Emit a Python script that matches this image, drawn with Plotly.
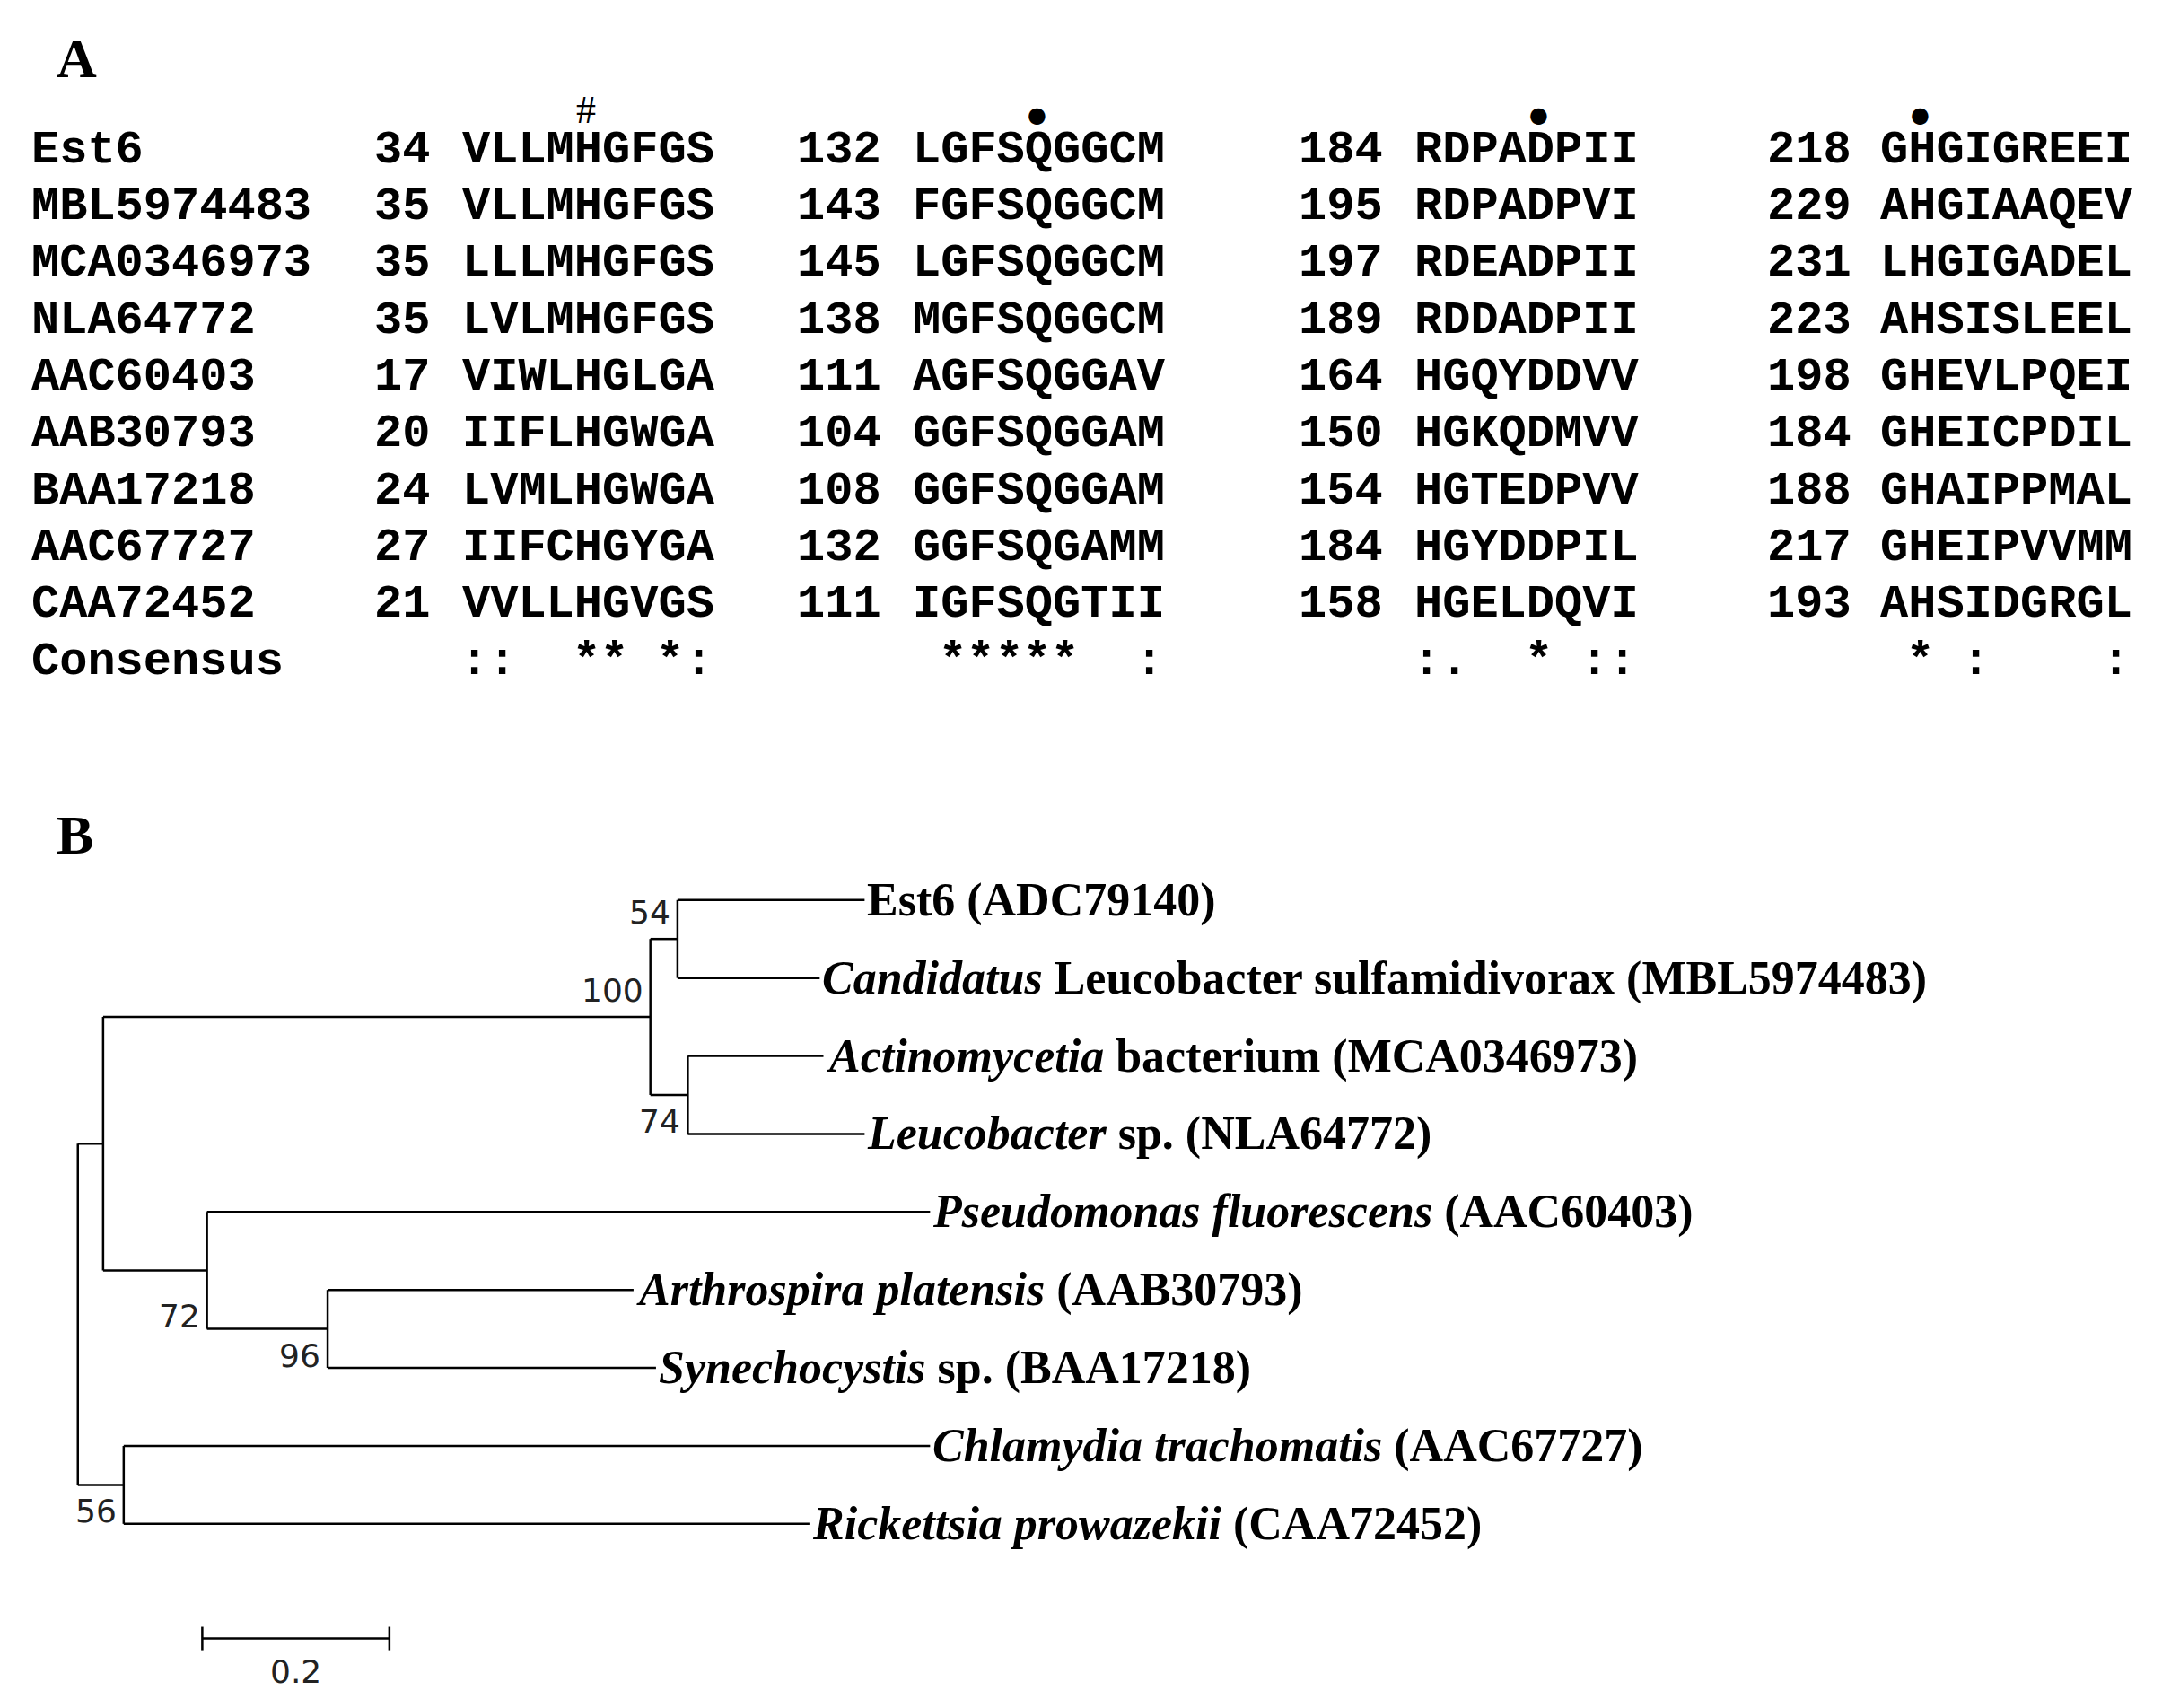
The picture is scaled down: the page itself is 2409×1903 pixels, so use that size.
import plotly.graph_objects as go

# ---------------- Panel A data ----------------
names = ["Est6", "MBL5974483", "MCA0346973", "NLA64772", "AAC60403",
         "AAB30793", "BAA17218", "AAC67727", "CAA72452"]
starts = [[34, 132, 184, 218], [35, 143, 195, 229], [35, 145, 197, 231],
          [35, 138, 189, 223], [17, 111, 164, 198], [20, 104, 150, 184],
          [24, 108, 154, 188], [27, 132, 184, 217], [21, 111, 158, 193]]
seqs = [["VLLMHGFGS", "LGFSQGGCM", "RDPADPII", "GHGIGREEI"],
        ["VLLMHGFGS", "FGFSQGGCM", "RDPADPVI", "AHGIAAQEV"],
        ["LLLMHGFGS", "LGFSQGGCM", "RDEADPII", "LHGIGADEL"],
        ["LVLMHGFGS", "MGFSQGGCM", "RDDADPII", "AHSISLEEL"],
        ["VIWLHGLGA", "AGFSQGGAV", "HGQYDDVV", "GHEVLPQEI"],
        ["IIFLHGWGA", "GGFSQGGAM", "HGKQDMVV", "GHEICPDIL"],
        ["LVMLHGWGA", "GGFSQGGAM", "HGTEDPVV", "GHAIPPMAL"],
        ["IIFCHGYGA", "GGFSQGAMM", "HGYDDPIL", "GHEIPVVMM"],
        ["VVLLHGVGS", "IGFSQGTII", "HGELDQVI", "AHSIDGRGL"]]
consensus = ["::  ** *:", " *****  :", ":.  * ::", " * :    :"]
marks = [(0, 4, "#"), (1, 4, "●"), (2, 4, "●"), (3, 1, "●")]

# ---------------- Panel B data ----------------
leaf_labels = ["Est6 (ADC79140)",
               "<i>Candidatus</i> Leucobacter sulfamidivorax (MBL5974483)",
               "<i>Actinomycetia</i> bacterium (MCA0346973)",
               "<i>Leucobacter</i> sp. (NLA64772)",
               "<i>Pseudomonas fluorescens</i> (AAC60403)",
               "<i>Arthrospira platensis</i> (AAB30793)",
               "<i>Synechocystis</i> sp. (BAA17218)",
               "<i>Chlamydia trachomatis</i> (AAC67727)",
               "<i>Rickettsia prowazekii</i> (CAA72452)"]
leaf_depth = [0.841, 0.793, 0.797, 0.841, 0.911, 0.594, 0.618, 0.911, 0.782]
# internal nodes: name -> (depth, children, support, label placement)
internal = {
    "root": (0.0, ["A", "G"], None, None),
    "A": (0.027, ["B", "E"], None, None),
    "B": (0.612, ["C", "D"], "100", "branch"),
    "C": (0.641, [0, 1], "54", "top"),
    "D": (0.652, [2, 3], "74", "bottom"),
    "E": (0.138, [4, "F"], "72", "bottom"),
    "F": (0.267, [5, 6], "96", "bottom"),
    "G": (0.049, [7, 8], "56", "bottom"),
}
scale_len = 0.2

# ---------------- layout geometry (display units) ----------------
W, H = 2409, 1903
DW, DH = 1560, 1232
OX, OY = 6, 8  # compensate page offset
fig = go.Figure()
ann = []
mono = "Liberation Mono"
fs = 52
charw = 0.6 * fs * DW / W  # display units per character

row_y0, row_dy = 111, 41
num_right = [312, 638, 1000, 1338]
seq_left = [333, 658, 1020, 1356]

def A(x, y, text, **kw):
    d = dict(x=x, y=y, xref="x", yref="y", text=text, showarrow=False)
    d.update(kw)
    ann.append(d)

A(40, 45, "<b>A</b>", font=dict(family="Liberation Serif", size=62, color="black"), xanchor="left")
A(40, 605, "<b>B</b>", font=dict(family="Liberation Serif", size=62, color="black"), xanchor="left")

mf = dict(family=mono, size=fs, color="black")
for i, nm in enumerate(names + ["Consensus"]):
    y = row_y0 + i * row_dy
    A(22, y, "<b>" + nm + "</b>", font=mf, xanchor="left")
    if i < len(names):
        for c in range(4):
            A(num_right[c], y, "<b>%d</b>" % starts[i][c], font=mf, xanchor="right")
            A(seq_left[c], y, "<b>" + seqs[i][c] + "</b>", font=mf, xanchor="left")
    else:
        for c in range(4):
            for p, ch in enumerate(consensus[c]):
                if ch != " ":
                    A(seq_left[c] + (p + 0.5) * charw, y, "<b>" + ch + "</b>", font=mf, xanchor="center")
for c, p, ch in marks:
    A(seq_left[c] + (p + 0.5) * charw, 82 if ch == "#" else 86, ch,
      font=dict(family="Liberation Serif" if ch == "#" else "DejaVu Sans",
                size=44 if ch == "#" else 24, color="black"))

# ---------------- tree ----------------
ypos = {}
def gety(n):
    if isinstance(n, int):
        return n
    if n in ypos:
        return ypos[n]
    ys = [gety(c) for c in internal[n][1]]
    ypos[n] = (min(ys) + max(ys)) / 2
    return ypos[n]
def getx(n):
    return leaf_depth[n] if isinstance(n, int) else internal[n][0]

xs, ys = [], []
for n, (d, ch, sup, plc) in internal.items():
    cy = [gety(c) for c in ch]
    xs += [d, d, None]; ys += [min(cy), max(cy), None]
    for c in ch:
        xs += [d, getx(c), None]; ys += [gety(c), gety(c), None]
fig.add_trace(go.Scatter(x=xs, y=ys, xaxis="x2", yaxis="y2", mode="lines",
                         line=dict(color="black", width=2.5), hoverinfo="skip", showlegend=False))

bf = dict(family="DejaVu Sans", size=36, color="#222")
for n, (d, ch, sup, plc) in internal.items():
    if sup is None:
        continue
    cy = [gety(c) for c in ch]
    if plc == "top":
        y, shift = min(cy), -14
    elif plc == "bottom":
        y, shift = max(cy), 14
    else:
        y, shift = gety(n), 30
    ann.append(dict(x=d, y=y, xref="x2", yref="y2", text=sup, showarrow=False, font=bf,
                    xanchor="right", yanchor="middle", xshift=-6, yshift=shift))

lf = dict(family="Liberation Serif", size=52, color="black")
for i, lab in enumerate(leaf_labels):
    ann.append(dict(x=leaf_depth[i], y=i, xref="x2", yref="y2", text="<b>" + lab + "</b>",
                    showarrow=False, font=lf, xanchor="left", yanchor="middle", xshift=1))

# scale bar
sb_x0 = 0.133
sb_y = 9.47
fig.add_trace(go.Scatter(x=[sb_x0, sb_x0 + scale_len, None, sb_x0, sb_x0, None, sb_x0 + scale_len, sb_x0 + scale_len],
                         y=[sb_y, sb_y, None, sb_y - 0.15, sb_y + 0.15, None, sb_y - 0.15, sb_y + 0.15],
                         xaxis="x2", yaxis="y2", mode="lines", line=dict(color="black", width=2.5),
                         hoverinfo="skip", showlegend=False))
ann.append(dict(x=sb_x0 + scale_len / 2, y=sb_y + 0.42, xref="x2", yref="y2", text="0.2",
                showarrow=False, font=bf, yanchor="middle"))

px_per_unit = 675.0
root_x = 57.0
leaf_y0, leaf_dy = 652.0, 56.25
fig.update_layout(
    width=W, height=H, margin=dict(l=0, r=0, t=0, b=0),
    paper_bgcolor="white", plot_bgcolor="white", annotations=ann,
    xaxis=dict(range=[OX, DW + OX], visible=False, fixedrange=True),
    yaxis=dict(range=[DH + OY, OY], visible=False, fixedrange=True),
    xaxis2=dict(range=[(OX - root_x) / px_per_unit, (DW + OX - root_x) / px_per_unit], visible=False,
                overlaying="x", anchor="y2"),
    yaxis2=dict(range=[(DH + OY - leaf_y0) / leaf_dy, (OY - leaf_y0) / leaf_dy], visible=False,
                overlaying="y", anchor="x2"),
)
fig.write_html("out.html")
